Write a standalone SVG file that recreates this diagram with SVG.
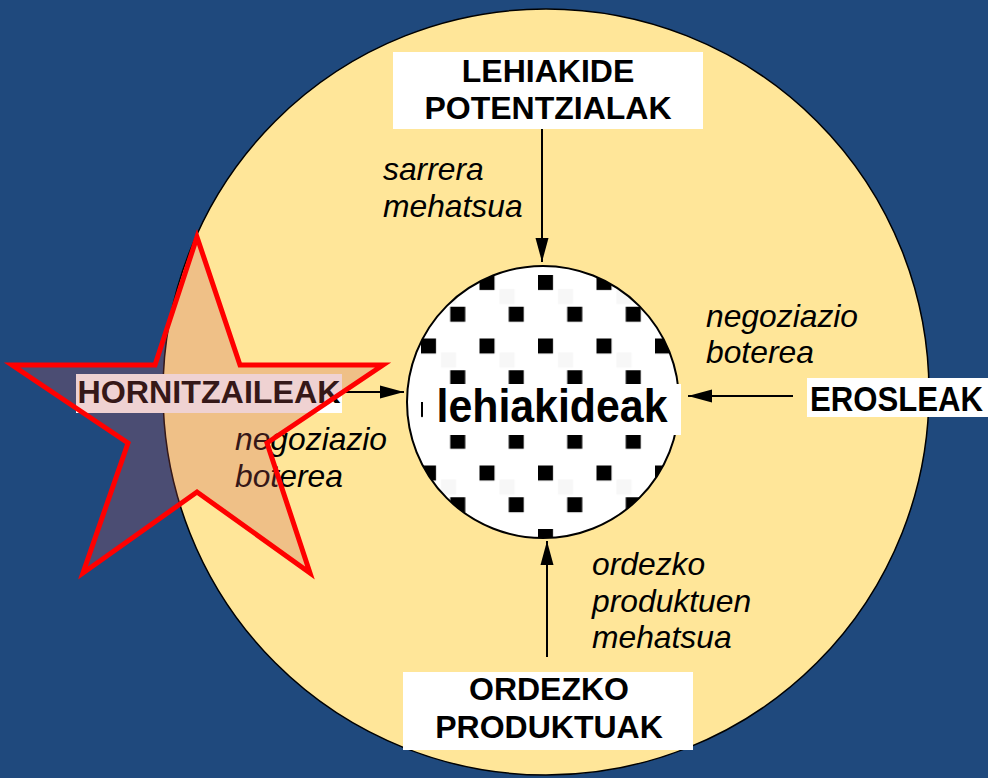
<svg xmlns="http://www.w3.org/2000/svg" width="988" height="778" viewBox="0 0 988 778">
<defs>
<style>
.lbl{font-family:"Liberation Sans",Arial,sans-serif;font-weight:bold;font-size:32px;fill:#000;text-anchor:middle}
.it{font-family:"Liberation Sans",Arial,sans-serif;font-style:italic;font-size:31.8px;fill:#000}
.box{fill:#fff}
.conn{stroke:#000;stroke-width:2;fill:none;marker-end:url(#ah)}
</style>
<marker id="ah" markerUnits="userSpaceOnUse" markerWidth="24" markerHeight="14" refX="24" refY="7" orient="auto">
<path d="M0,0.5 L24,7 L0,13.5 z" fill="#000"/>
</marker>
<pattern id="dots" patternUnits="userSpaceOnUse" x="538" y="275" width="58.5" height="63.5">
<rect width="58.5" height="63.5" fill="#fff"/>
<rect x="20" y="14" width="15" height="15" fill="#f7f7f7"/>
<rect x="0" y="0" width="15" height="15" fill="#000"/>
<rect x="29.25" y="31.75" width="15" height="15" fill="#000"/>
</pattern>
</defs>
<rect width="988" height="778" fill="#1F497D"/>
<g id="environment">
<circle cx="546" cy="392" r="383" fill="#FFE699" stroke="#000" stroke-width="1.5"/>
</g>
<g id="lehiakideak">
<circle cx="543" cy="402" r="136" fill="url(#dots)" stroke="#000" stroke-width="2"/>
<rect class="box" x="423" y="384" width="258" height="51"/>
<text x="552" y="422" font-family="'Liberation Sans',Arial,sans-serif" font-weight="bold" font-size="46" text-anchor="middle" textLength="231" lengthAdjust="spacingAndGlyphs">lehiakideak</text>
</g>
<g id="connectors">
<line class="conn" x1="542" y1="129" x2="542" y2="262"/>
<line class="conn" x1="547" y1="657" x2="547" y2="541"/>
<line class="conn" x1="793" y1="396" x2="688" y2="396"/>
<line class="conn" x1="342" y1="392" x2="404" y2="392"/>
</g>
<g id="lehiakide-potentzialak">
<rect class="box" x="393" y="52" width="310" height="77"/>
<text class="lbl" x="548" y="82">LEHIAKIDE</text>
<text class="lbl" x="548" y="119">POTENTZIALAK</text>
</g>
<g id="sarrera-label">
<text class="it" x="383" y="180">sarrera</text>
<text class="it" x="383" y="217">mehatsua</text>
</g>
<g id="erosleak">
<rect class="box" x="807" y="378" width="181" height="39"/>
<text x="810" y="411" font-family="'Liberation Sans',Arial,sans-serif" font-weight="bold" font-size="35" textLength="173" lengthAdjust="spacingAndGlyphs">EROSLEAK</text>
</g>
<g id="negoziazio-right">
<text class="it" x="706" y="327">negoziazio</text>
<text class="it" x="706" y="363">boterea</text>
</g>
<g id="ordezko-produktuak">
<rect class="box" x="403" y="672" width="290" height="78"/>
<text class="lbl" x="549" y="700">ORDEZKO</text>
<text class="lbl" x="549" y="738">PRODUKTUAK</text>
</g>
<g id="ordezko-label">
<text class="it" x="592" y="575">ordezko</text>
<text class="it" x="592" y="612">produktuen</text>
<text class="it" x="592" y="648">mehatsua</text>
</g>
<g id="negoziazio-left">
<text class="it" x="235" y="450">negoziazio</text>
<text class="it" x="235" y="487">boterea</text>
</g>
<g id="hornitzaileak">
<rect class="box" x="76" y="374" width="266" height="39"/>
<text x="209" y="403" class="lbl" font-size="33" textLength="263" lengthAdjust="spacingAndGlyphs">HORNITZAILEAK</text>
<polygon points="197,237 240,365 383,365 267,443 310,573 197,492 83,573 128,443 12,365 155,365" fill="rgb(196,88,88)" fill-opacity="0.27" stroke="#FF0000" stroke-width="5" stroke-linejoin="miter"/>
</g>
</svg>
